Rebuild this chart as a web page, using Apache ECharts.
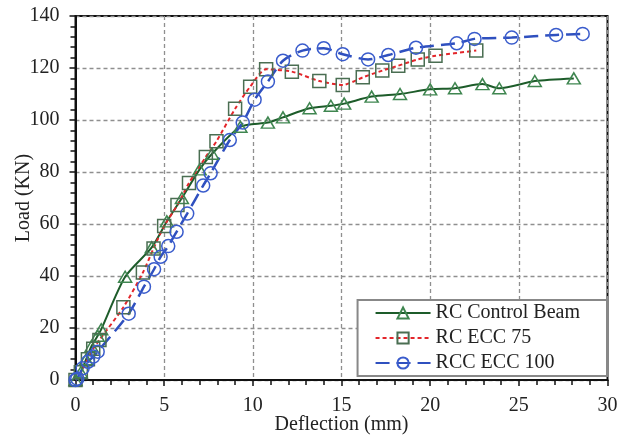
<!DOCTYPE html>
<html>
<head>
<meta charset="utf-8">
<script src="https://cdn.jsdelivr.net/npm/echarts@6/dist/echarts.min.js"></script>
<style>
  html, body { margin: 0; padding: 0; background: #fff; }
  #chart { width: 632px; height: 437px; }
</style>
</head>
<body>
<div id="chart"></div>
<script>
// RC Control Beam
const ctrlX = [0, 0.3, 0.6, 0.9, 1.25, 1.45, 2.8, 4.3, 5.15, 6.0, 7.0, 7.7, 9.3, 10.85, 11.7, 13.2, 14.4, 15.15, 16.7, 18.3, 20.0, 21.4, 22.95, 23.9, 25.9, 28.1]
const ctrlY = [0, 3, 8, 13, 17, 19.5, 39.7, 51, 61, 70, 81, 87, 97.4, 99, 101, 104.5, 105.5, 106.3, 109, 110, 111.8, 112.2, 113.8, 112.2, 115, 116]
// RC ECC 75
const ecc75X = [0, 0.3, 0.7, 1.0, 1.35, 2.7, 3.8, 4.4, 5.0, 5.75, 6.4, 7.35, 7.95, 9.0, 9.85, 10.75, 12.2, 13.75, 15.07, 16.2, 17.3, 18.2, 19.3, 20.3, 22.6]
const ecc75Y = [0, 3, 8, 12, 15.4, 28, 41.3, 50.6, 59.2, 67.3, 75.8, 85.8, 91.8, 104.3, 112.8, 119.5, 118.6, 115, 113.5, 116.4, 119, 120.9, 123.3, 124.7, 126.7]
// RCC ECC 100
const ecc100X = [0, 0.1, 0.4, 0.7, 1.0, 1.25, 3.0, 3.86, 4.43, 4.8, 5.23, 5.7, 6.3, 7.2, 7.62, 8.7, 9.43, 10.1, 10.85, 11.7, 12.8, 14.0, 15.07, 16.5, 17.64, 19.2, 21.5, 22.5, 24.6, 27.1, 28.6]
const ecc100Y = [0, 0.5, 4.5, 7, 9, 10.9, 25.5, 35.9, 42.6, 47.4, 51.5, 57, 64, 74.8, 79.5, 92.3, 99, 107.8, 114.8, 122.8, 126.7, 127.6, 125.3, 123.3, 125, 127.8, 129.5, 131.2, 131.7, 132.7, 133.1]

const xTicks = [0, 5, 10, 15, 20, 25, 30]
const yTicks = [0, 20, 40, 60, 80, 100, 120, 140]

const font = 'Liberation Serif'
const pairs = (xs, ys) => xs.map((x, i) => [x, ys[i]])

const chart = echarts.init(document.getElementById('chart'))

const axisCommon = {
  axisLine: { show: true, lineStyle: { color: '#111', width: 2 } },
  axisTick: { show: true, inside: false, length: 6, lineStyle: { color: '#111', width: 1.5 } },
  minorTick: { show: true, splitNumber: 5, length: 5, lineStyle: { color: '#111', width: 1.5 } },
  splitLine: { show: true, lineStyle: { color: '#8f8f8f', width: 1.3, type: [4, 3] } },
  axisLabel: { color: '#222', fontFamily: font, fontSize: 20, margin: 16 },
  nameLocation: 'middle',
  nameMoveOverlap: false,
  nameTextStyle: { color: '#222', fontFamily: font, fontSize: 20 }
}

const option = {
  animation: false,
  backgroundColor: '#fff',
  grid: {
    left: 75.5, right: 24.5, top: 16, bottom: 57,
    show: true, borderColor: '#111', borderWidth: 2,
    containLabel: false, outerBoundsMode: 'none'
  },
  legend: {
    orient: 'vertical',
    right: 25,
    bottom: 61,
    padding: [3, 27, 3, 17],
    itemWidth: 55,
    itemHeight: 14,
    itemGap: 5,
    backgroundColor: '#fff',
    borderColor: '#888',
    borderWidth: 2,
    textStyle: { color: '#222', fontFamily: font, fontSize: 20, lineHeight: 20 },
    data: ['RC Control Beam', 'RC ECC 75', 'RCC ECC 100']
  },
  xAxis: Object.assign({}, axisCommon, {
    type: 'value',
    min: xTicks[0],
    max: xTicks[xTicks.length - 1],
    interval: xTicks[1] - xTicks[0],
    name: 'Deflection (mm)',
    nameGap: 35
  }),
  yAxis: Object.assign({}, axisCommon, {
    type: 'value',
    min: yTicks[0],
    max: yTicks[yTicks.length - 1],
    interval: yTicks[1] - yTicks[0],
    name: 'Load (KN)',
    nameGap: 42
  }),
  series: [
    {
      name: 'RC Control Beam',
      type: 'line',
      data: pairs(ctrlX, ctrlY),
      smooth: 0.25,
      symbol: 'triangle',
      symbolSize: [13, 11],
      lineStyle: { color: '#1d5c2a', width: 2 },
      itemStyle: { color: 'rgba(0,0,0,0)', borderColor: '#3f8650', borderWidth: 1.5 }
    },
    {
      name: 'RC ECC 75',
      type: 'line',
      data: pairs(ecc75X, ecc75Y),
      smooth: 0.25,
      symbol: 'rect',
      symbolSize: 13,
      lineStyle: { color: '#e3262b', width: 2, type: [4, 3] },
      itemStyle: { color: 'rgba(0,0,0,0)', borderColor: '#4a6e52', borderWidth: 1.5 }
    },
    {
      name: 'RCC ECC 100',
      type: 'line',
      data: pairs(ecc100X, ecc100Y),
      smooth: 0.25,
      symbol: 'circle',
      symbolSize: 13,
      lineStyle: { color: '#2f50bf', width: 2.5, type: [14, 7] },
      itemStyle: { color: 'rgba(0,0,0,0)', borderColor: '#3a5ccc', borderWidth: 1.5 }
    }
  ]
}

chart.setOption(option)
</script>
</body>
</html>
